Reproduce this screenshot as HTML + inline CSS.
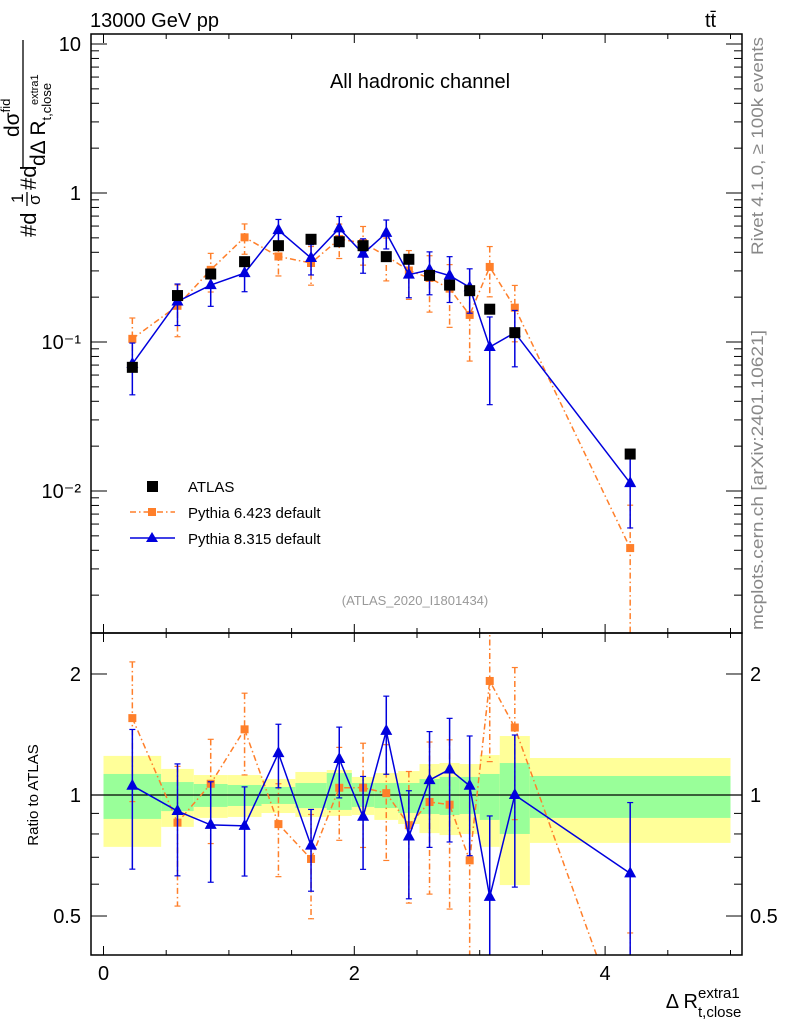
<!DOCTYPE html>
<html><head><meta charset="utf-8">
<style>
html,body{margin:0;padding:0;background:#fff;width:786px;height:1024px;overflow:hidden;}
svg{display:block;font-family:"Liberation Sans",sans-serif;}
</style></head>
<body>
<svg id="chart" width="786" height="1024" viewBox="0 0 786 1024" xmlns="http://www.w3.org/2000/svg">
<g id="bands"></g>
<g id="mainplot"></g>
<g id="ratioplot"></g>
<g id="axes"></g>
<text x="90" y="27" font-size="20">13000 GeV pp</text>
<text x="705" y="27" font-size="20">tt̄</text>
<text x="420" y="88" font-size="20" text-anchor="middle">All hadronic channel</text>
<text x="415" y="605" font-size="13" fill="#999" text-anchor="middle">(ATLAS_2020_I1801434)</text>
<text transform="translate(763,146) rotate(-90)" font-size="17" fill="#888" text-anchor="middle" textLength="218" lengthAdjust="spacingAndGlyphs">Rivet 4.1.0, ≥ 100k events</text>
<text transform="translate(763,480) rotate(-90)" font-size="17" fill="#888" text-anchor="middle" textLength="300" lengthAdjust="spacingAndGlyphs">mcplots.cern.ch [arXiv:2401.10621]</text>
<g transform="rotate(-90)">
<text x="-237" y="36" font-size="22">#d</text>
<text x="-203" y="23" font-size="17">1</text>
<line x1="-206" y1="27" x2="-192" y2="27" stroke="#000" stroke-width="1.3"/>
<text x="-205" y="40" font-size="17">σ</text>
<text x="-190" y="36" font-size="22">#d</text>
<text x="-137" y="19" font-size="21">dσ<tspan font-size="13" dy="-9">fid</tspan></text>
<line x1="-168" y1="23" x2="-40" y2="23" stroke="#000" stroke-width="1.3"/>
<text x="-166" y="45" font-size="21">dΔ R<tspan font-size="13" dy="6">t,close</tspan></text>
<text x="-105" y="38" font-size="11">extra1</text>
</g>
<text x="698" y="1008" font-size="20" text-anchor="end">Δ R</text>
<text x="698" y="998" font-size="15">extra1</text>
<text x="698" y="1017" font-size="15">t,close</text>
<text transform="translate(38,795) rotate(-90)" font-size="15" text-anchor="middle">Ratio to ATLAS</text>
<g>
<g><rect x="147" y="481" width="11" height="11" fill="#000"/><text x="188" y="492" font-size="15">ATLAS</text></g>
<g><line x1="130" y1="512" x2="175" y2="512" stroke="#ff7f2a" stroke-width="1.4" stroke-dasharray="6,3,1.5,3"/><rect x="148" y="508" width="8" height="8" fill="#ff7f2a"/><text x="188" y="518" font-size="15">Pythia 6.423 default</text></g>
<g><line x1="130" y1="538" x2="175" y2="538" stroke="#0000dd" stroke-width="1.5"/><path d="M152,532 L158,542 L146,542 Z" fill="#0000dd"/><text x="188" y="544" font-size="15">Pythia 8.315 default</text></g>
</g>
</svg>
<script>
const binEdges=[0,0.46,0.72,0.99,1.26,1.53,1.78,1.98,2.16,2.35,2.52,2.68,2.84,3.0,3.16,3.4,5.0];
const atlasValues=[0.0676,0.205,0.286,0.346,0.443,0.489,0.471,0.443,0.374,0.359,0.280,0.241,0.221,0.166,0.1155,0.0177];
const yellowUp=[1.251,1.161,1.121,1.121,1.096,1.141,1.154,1.109,1.134,1.147,1.194,1.201,1.194,1.257,1.402,1.236];
const yellowDown=[0.743,0.833,0.877,0.882,0.902,0.882,0.887,0.892,0.867,0.847,0.804,0.795,0.800,0.743,0.597,0.760];
const greenUp=[1.128,1.077,1.065,1.059,1.047,1.071,1.134,1.071,1.071,1.071,1.096,1.109,1.109,1.128,1.201,1.115];
const greenDown=[0.872,0.912,0.934,0.939,0.950,0.928,0.918,0.934,0.928,0.902,0.897,0.892,0.897,0.867,0.800,0.877];
const py6Values=[0.105,0.175,0.305,0.504,0.375,0.339,0.491,0.462,0.378,0.302,0.269,0.228,0.152,0.319,0.170,0.00414];
const py6RelErr=[0.38,0.38,0.29,0.23,0.26,0.29,0.26,0.29,0.32,0.36,0.41,0.45,0.51,0.37,0.41,0.94];
const py8Values=[0.0713,0.187,0.241,0.290,0.563,0.366,0.579,0.391,0.540,0.283,0.305,0.279,0.233,0.0926,0.1155,0.0113];
const py8RelErr=[0.38,0.31,0.28,0.25,0.18,0.23,0.20,0.26,0.22,0.30,0.32,0.34,0.33,0.59,0.41,0.50];
const xTicks=[0,2,4];
const mainTicks=[{v:10,l:"10"},{v:1,l:"1"},{v:0.1,l:"10⁻¹"},{v:0.01,l:"10⁻²"}];
const ratioTicks=[{v:2,l:"2"},{v:1,l:"1"},{v:0.5,l:"0.5"}];

const NS="http://www.w3.org/2000/svg";
const L=91,R=742,T=34,MB=633,RB=955;
const xs=v=>103.5+125.4*v;
const ym=v=>193-149*Math.log10(v);
const yr=v=>795-402*Math.log10(v);
function mk(tag,attrs,parent){const e=document.createElementNS(NS,tag);for(const k in attrs)e.setAttribute(k,attrs[k]);parent.appendChild(e);return e;}
const svg=document.getElementById('chart');
const defs=mk('defs',{},svg);
const c1=mk('clipPath',{id:'cm'},defs);mk('rect',{x:L,y:T,width:R-L,height:MB-T},c1);
const c2=mk('clipPath',{id:'cr'},defs);mk('rect',{x:L,y:MB,width:R-L,height:RB-MB},c2);

const bands=document.getElementById('bands');bands.setAttribute('clip-path','url(#cr)');
for(let i=0;i<atlasValues.length;i++){
  const x0=xs(binEdges[i]),x1=Math.min(xs(binEdges[i+1]),R);
  const yb=mk('rect',{x:x0,y:yr(yellowUp[i]),width:x1-x0,height:yr(yellowDown[i])-yr(yellowUp[i]),fill:'#ffff99'},bands);
  
  
  const gb=mk('rect',{x:x0,y:yr(greenUp[i]),width:x1-x0,height:yr(greenDown[i])-yr(greenUp[i]),fill:'#99ff99'},bands);
  
  
}
mk('line',{x1:L,y1:yr(1),x2:R,y2:yr(1),stroke:'#000','stroke-width':1.3},bands);

const centers=binEdges.slice(0,-1).map((e,i)=>(e+binEdges[i+1])/2);
function series(g,vals,errs,yf,color,dash,marker,name){
  const pts=vals.map((v,i)=>xs(centers[i])+','+yf(v)).join(' ');
  const pl=mk('polyline',{points:pts,fill:'none',stroke:color,'stroke-width':1.5},g);
  if(dash)pl.setAttribute('stroke-dasharray',dash);
  
  
  vals.forEach((v,i)=>{
    const x=xs(centers[i]);
    const lo=Math.max(v*(1-errs[i]),1e-6),hi=v*(1+errs[i]);
    const eb=mk('line',{x1:x,x2:x,y1:yf(hi),y2:yf(lo),stroke:color,'stroke-width':1.5},g);
    if(dash)eb.setAttribute('stroke-dasharray',dash);
    
    
    mk('line',{x1:x-3,x2:x+3,y1:yf(hi),y2:yf(hi),stroke:color,'stroke-width':1.2},g);
    mk('line',{x1:x-3,x2:x+3,y1:yf(lo),y2:yf(lo),stroke:color,'stroke-width':1.2},g);
    const y=yf(v);let m;
    if(marker==='tri')m=mk('path',{d:`M${x},${y-7} L${x+6},${y+4} L${x-6},${y+4} Z`,fill:color},g);
    else m=mk('rect',{x:x-4,y:y-4,width:8,height:8,fill:color},g);
    
    
  });
}
const mp=document.getElementById('mainplot');mp.setAttribute('clip-path','url(#cm)');
series(mp,py6Values,py6RelErr,ym,'#ff7f2a','6,3,1.5,3','sq','pythia6');
series(mp,py8Values,py8RelErr,ym,'#0000dd',null,'tri','pythia8');
atlasValues.forEach((v,i)=>{
  const r=mk('rect',{x:xs(centers[i])-5.5,y:ym(v)-5.5,width:11,height:11,fill:'#000'},mp);
  
  
});
const rp=document.getElementById('ratioplot');rp.setAttribute('clip-path','url(#cr)');
series(rp,py6Values.map((v,i)=>v/atlasValues[i]),py6RelErr,yr,'#ff7f2a','6,3,1.5,3','sq','pythia6-ratio');
series(rp,py8Values.map((v,i)=>v/atlasValues[i]),py8RelErr,yr,'#0000dd',null,'tri','pythia8-ratio');

const ax=document.getElementById('axes');
mk('rect',{x:L,y:T,width:R-L,height:MB-T,fill:'none',stroke:'#000','stroke-width':1.5},ax);
mk('rect',{x:L,y:MB,width:R-L,height:RB-MB,fill:'none',stroke:'#000','stroke-width':1.5},ax);
for(let v=0;v<=5;v+=0.5){
  const x=xs(v),len=(v%2===0)?9:5;
  [[T,1],[MB,-1],[MB,1],[RB,-1]].forEach(([y,d])=>mk('line',{x1:x,x2:x,y1:y,y2:y+d*len,stroke:'#000','stroke-width':1},ax));
}
xTicks.forEach(v=>{const t=mk('text',{x:xs(v),y:980,'font-size':20,'text-anchor':'middle'},ax);t.textContent=v;
 
 });
for(let d=-3;d<=1;d++)for(let k=1;k<10;k++){
  const v=k*Math.pow(10,d),y=ym(v);if(y<T||y>MB)continue;const len=k===1?16:8;
  mk('line',{x1:L,x2:L+len,y1:y,y2:y,stroke:'#000'},ax);mk('line',{x1:R,x2:R-len,y1:y,y2:y,stroke:'#000'},ax);
}
mainTicks.forEach(o=>{const t=mk('text',{x:81,y:ym(o.v)+7,'font-size':20,'text-anchor':'end'},ax);t.textContent=o.l;
 
 });
[0.4,0.5,0.6,0.7,0.8,0.9,1,2].forEach(v=>{const y=yr(v);const len=(v===1||v===2||v===0.5)?16:8;
  mk('line',{x1:L,x2:L+len,y1:y,y2:y,stroke:'#000'},ax);mk('line',{x1:R,x2:R-len,y1:y,y2:y,stroke:'#000'},ax);});
ratioTicks.forEach(o=>{
 const t=mk('text',{x:81,y:yr(o.v)+7,'font-size':20,'text-anchor':'end'},ax);t.textContent=o.l;
 
 
 const t2=mk('text',{x:750,y:yr(o.v)+7,'font-size':20},ax);t2.textContent=o.l;
 
 
});
</script>
</body></html>
